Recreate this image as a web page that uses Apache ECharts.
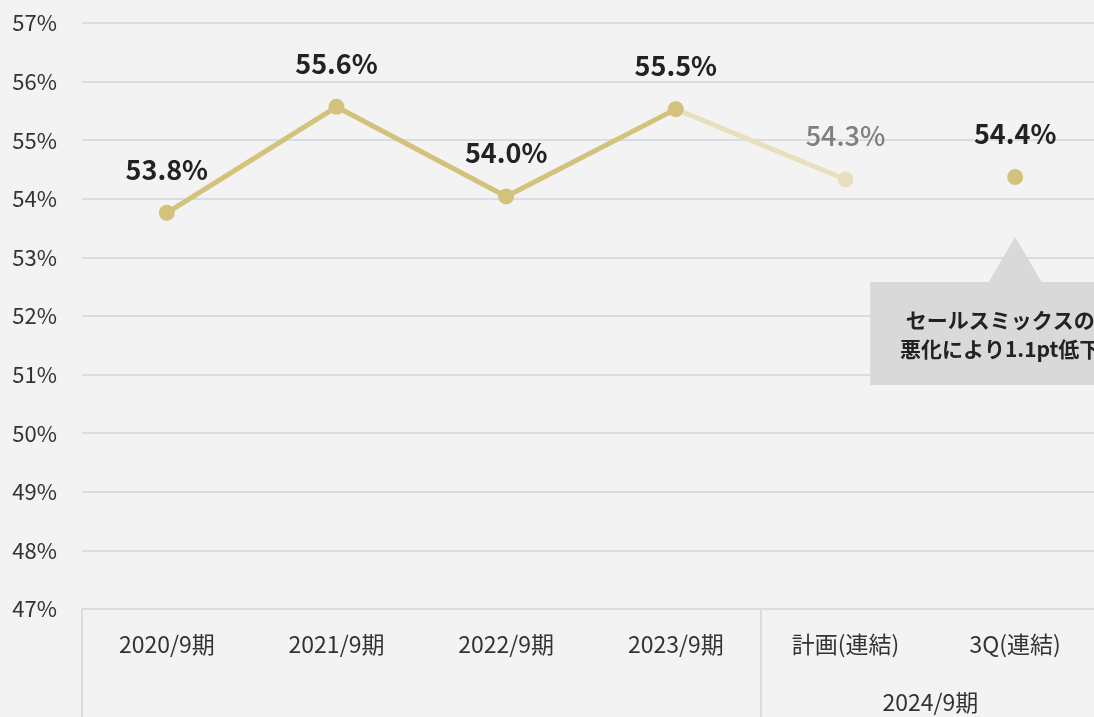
<!DOCTYPE html>
<html>
<head>
<meta charset="utf-8">
<script src="https://cdn.jsdelivr.net/npm/echarts@6/dist/echarts.min.js"></script>
<style>
html,body{margin:0;padding:0;background:#f3f3f3;overflow:hidden;}
#c{width:1100px;height:717px;}
</style>
</head>
<body>
<div id="c"></div>
<script>
const categories = ['2020/9期', '2021/9期', '2022/9期', '2023/9期', '計画(連結)', '3Q(連結)'];
const groupLabels = ['', '', '2024/9期'];
const actualValues = [53.76, 55.57, 54.04, 55.53, null, null];
const planValues = [null, null, null, 55.53, 54.33, null];
const q3Values = [null, null, null, null, null, 54.37];
const yTicks = { min: 47, max: 57, interval: 1 };
const calloutLines = ['セールスミックスの', '悪化により1.1pt低下'];

const FONT = '"Noto Sans CJK JP", "Noto Sans", sans-serif';
const GOLD = '#d3c27c';
const GOLD_FADE = '#e8dfbc';
const GRIDC = '#d8dce3';

const chart = echarts.init(document.getElementById('c'), null, { renderer: 'canvas' });

const labelFmt = p => (p.value == null ? '' : p.value.toFixed(1) + '%');

const option = {
  backgroundColor: '#f3f3f3',
  animation: false,
  textStyle: { fontFamily: FONT },
  grid: { left: 82, right: 0, top: 23, bottom: 108 },
  xAxis: [
    {
      type: 'category',
      data: categories,
      boundaryGap: true,
      axisLine: { show: true, lineStyle: { color: GRIDC, width: 2 } },
      axisTick: {
        show: true,
        interval: (i) => i === 0 || i === 4,
        length: 110,
        lineStyle: { color: GRIDC, width: 2 }
      },
      axisLabel: { color: '#333', fontSize: 23, fontFamily: FONT, margin: 24, interval: 0 }
    },
    {
      type: 'category',
      data: groupLabels,
      position: 'bottom',
      boundaryGap: true,
      axisLine: { show: false },
      axisTick: { show: false },
      axisLabel: { color: '#333', fontSize: 23, fontFamily: FONT, margin: 82, interval: 0 }
    }
  ],
  yAxis: {
    type: 'value',
    min: yTicks.min,
    max: yTicks.max,
    interval: yTicks.interval,
    axisLine: { show: false },
    axisTick: { show: false },
    splitLine: { lineStyle: { color: GRIDC, width: 2 } },
    axisLabel: { formatter: '{value}%', color: '#333', fontSize: 22, fontFamily: FONT, margin: 25 }
  },
  series: [
    {
      type: 'line',
      data: planValues,
      xAxisIndex: 0,
      symbol: 'circle',
      symbolSize: 16,
      lineStyle: { color: GOLD_FADE, width: 5 },
      itemStyle: { color: GOLD_FADE },
      label: {
        show: true, position: 'top', distance: 22,
        formatter: p => (p.dataIndex === 4 ? labelFmt(p) : ''),
        color: '#7f7f7f', fontSize: 27, fontWeight: 500, fontFamily: FONT
      },
      z: 2
    },
    {
      type: 'line',
      data: actualValues,
      xAxisIndex: 0,
      symbol: 'circle',
      symbolSize: 16,
      lineStyle: { color: GOLD, width: 5 },
      itemStyle: { color: GOLD },
      label: {
        show: true, position: 'top', distance: 22,
        formatter: labelFmt,
        color: '#222', fontSize: 27, fontWeight: 'bold', fontFamily: FONT
      },
      z: 3
    },
    {
      type: 'line',
      data: q3Values,
      xAxisIndex: 0,
      symbol: 'circle',
      symbolSize: 16,
      lineStyle: { color: GOLD, width: 5 },
      itemStyle: { color: GOLD },
      label: {
        show: true, position: 'top', distance: 22,
        formatter: labelFmt,
        color: '#222', fontSize: 27, fontWeight: 'bold', fontFamily: FONT
      },
      z: 3
    }
  ]
};

chart.setOption(option);

const anchor = chart.convertToPixel({ seriesIndex: 2 }, [5, q3Values[5]]);
const ax = anchor[0], ay = anchor[1];
chart.setOption({
  graphic: [
    {
      type: 'polygon',
      shape: { points: [[ax, ay + 60], [ax - 27, ay + 106], [ax + 27, ay + 106]] },
      style: { fill: '#d9d9d9' },
      z: 10
    },
    {
      type: 'rect',
      shape: { x: ax - 145, y: ay + 105, width: 260, height: 103 },
      style: { fill: '#d9d9d9' },
      z: 10
    },
    {
      type: 'text',
      x: ax - 15, y: ay + 143,
      style: { text: calloutLines[0], fill: '#222', font: 'bold 21px ' + FONT, textAlign: 'center', textVerticalAlign: 'middle' },
      z: 11
    },
    {
      type: 'text',
      x: ax - 15, y: ay + 172,
      style: { text: calloutLines[1], fill: '#222', font: 'bold 21px ' + FONT, textAlign: 'center', textVerticalAlign: 'middle' },
      z: 11
    }
  ]
});
</script>
</body>
</html>
